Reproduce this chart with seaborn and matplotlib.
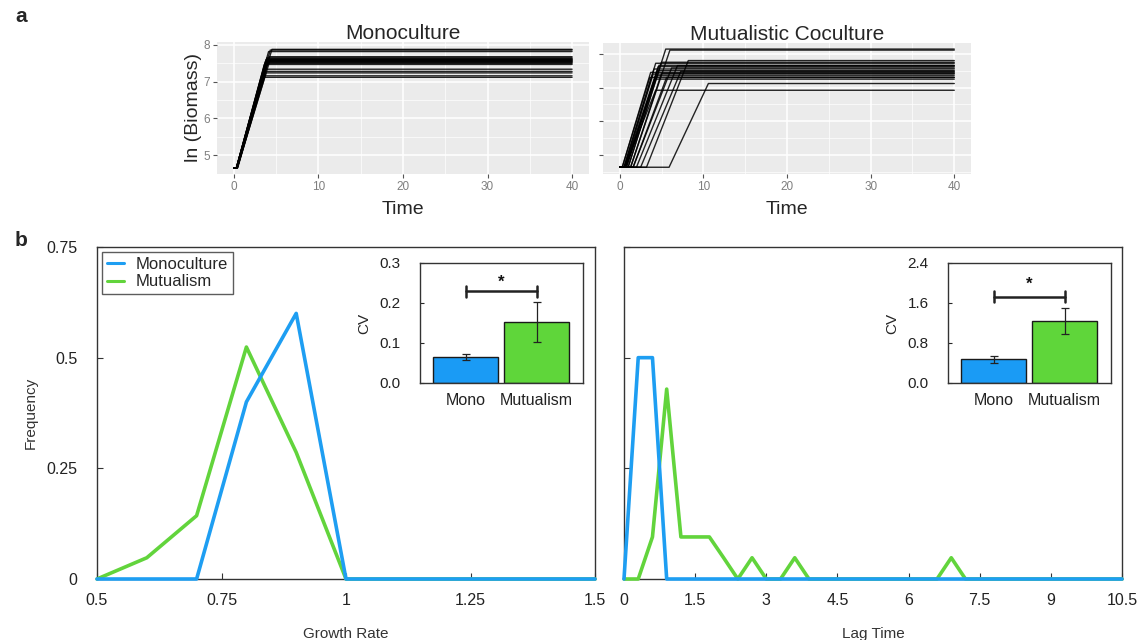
import numpy as np
import pandas as pd
import matplotlib
matplotlib.use("Agg")
import matplotlib.pyplot as plt
from matplotlib.ticker import MultipleLocator
import seaborn as sns

# ---------------- DATA ----------------
# Panel a: growth curves, each drawn through read-off vertices
# (start, end of lag, reaching plateau, end of run)
mono_start = 4.66
mono_lag_end = [0.3, 0.35, 0.3, 0.4, 0.3, 0.35, 0.4, 0.3, 0.45, 0.35,
                0.4, 0.3, 0.35, 0.4, 0.3, 0.35, 0.3, 0.4, 0.35, 0.3]
mono_plateau_t = [4.5, 4.3, 4.1, 4.2, 3.9, 4.0, 4.3, 3.8, 4.1, 3.9,
                  4.0, 3.7, 3.8, 3.9, 3.6, 3.7, 3.5, 3.8, 3.6, 3.4]
mono_plateau_y = [7.88, 7.86, 7.82, 7.68, 7.65, 7.63, 7.61, 7.60, 7.58, 7.57,
                  7.55, 7.54, 7.52, 7.50, 7.47, 7.34, 7.28, 7.24, 7.16, 7.12]

cocul_start = 4.64
cocul_lag_end = [0.3, 0.3, 0.5, 0.5, 0.6, 0.6, 0.6, 0.7, 0.7, 0.8, 0.8,
                 1.0, 1.0, 1.3, 1.3, 1.6, 1.6, 2.0, 2.5, 3.2, 5.9]
cocul_plateau_t = [3.7, 3.6, 4.3, 4.1, 4.0, 4.3, 4.6, 4.5, 4.4, 4.2, 4.7,
                   5.5, 5.0, 6.0, 5.0, 6.2, 5.6, 6.9, 7.3, 8.2, 10.6]
cocul_plateau_y = [7.45, 7.30, 7.72, 7.55, 7.40, 6.92, 7.62, 7.50, 7.35, 7.25, 7.66,
                   8.14, 7.75, 8.11, 7.42, 7.58, 7.30, 7.65, 7.48, 7.80, 7.12]
t_end = 40

# Panel b left: growth-rate frequency
growth_x = [0.5, 0.6, 0.7, 0.8, 0.9, 1.0, 1.1, 1.2, 1.3, 1.4, 1.5]
growth_mono = [0, 0, 0, 0.40, 0.60, 0, 0, 0, 0, 0, 0]
growth_mut = [0, 0.048, 0.143, 0.524, 0.286, 0, 0, 0, 0, 0, 0]
growth_ticks = [0.5, 0.75, 1.0, 1.25, 1.5]
growth_ticklabels = ["0.5", "0.75", "1", "1.25", "1.5"]

# Panel b right: lag-time frequency
lag_x = [0.0, 0.3, 0.6, 0.9, 1.2, 1.5, 1.8, 2.1, 2.4, 2.7, 3.0, 3.3,
         3.6, 3.9, 4.2, 4.5, 4.8, 5.1, 5.4, 5.7, 6.0, 6.3, 6.6, 6.9,
         7.2, 7.5, 7.8, 8.1, 8.4, 8.7, 9.0, 9.3, 9.6, 9.9, 10.2, 10.5]
lag_mono = [0, 0.5, 0.5, 0, 0, 0, 0, 0, 0, 0, 0, 0,
            0, 0, 0, 0, 0, 0, 0, 0, 0, 0, 0, 0,
            0, 0, 0, 0, 0, 0, 0, 0, 0, 0, 0, 0]
lag_mut = [0, 0, 0.095, 0.429, 0.095, 0.095, 0.095, 0.048, 0, 0.048, 0, 0,
           0.048, 0, 0, 0, 0, 0, 0, 0, 0, 0, 0, 0.048,
           0, 0, 0, 0, 0, 0, 0, 0, 0, 0, 0, 0]
lag_ticks = [0, 1.5, 3, 4.5, 6, 7.5, 9, 10.5]
lag_ticklabels = ["0", "1.5", "3", "4.5", "6", "7.5", "9", "10.5"]

freq_ticks = [0, 0.25, 0.5, 0.75]
freq_ticklabels = ["0", "0.25", "0.5", "0.75"]

# Insets: coefficient of variation
cv_groups = ["Mono", "Mutualism"]
cv_growth = [0.065, 0.153]
cv_growth_err = [0.007, 0.050]
cv_lag = [0.48, 1.24]
cv_lag_err = [0.07, 0.26]

BLUE = "#1E9EF2"
GREEN = "#62D43C"
BAR_BLUE = "#1A9BF5"
BAR_GREEN = "#5FD63A"

# ---------------- STYLE ----------------
sns.set_theme(style="white")
plt.rcParams["font.family"] = ["Liberation Sans", "DejaVu Sans"]

fig = plt.figure(figsize=(11.45, 6.4), dpi=100)
W, H = 1145, 640


def ax_px(x0, y0, x1, y1):
    return fig.add_axes([x0 / W, 1 - y1 / H, (x1 - x0) / W, (y1 - y0) / H])


def curves_df(lag_end, plat_t, plat_y, start):
    rows = []
    for i, (a, b, k) in enumerate(zip(lag_end, plat_t, plat_y)):
        for t, y in [(0, start), (a, start), (b, k), (t_end, k)]:
            rows.append({"curve": i, "Time": t, "y": y})
    return pd.DataFrame(rows)


def gg_style(ax, ylim, show_ylabels):
    ax.set_facecolor("#EBEBEB")
    for s in ax.spines.values():
        s.set_visible(False)
    ax.set_xlim(-2, 42)
    ax.set_ylim(*ylim)
    ax.set_xticks([0, 10, 20, 30, 40])
    ax.set_yticks([5, 6, 7, 8])
    ax.xaxis.set_minor_locator(MultipleLocator(5))
    ax.yaxis.set_minor_locator(MultipleLocator(0.5))
    ax.grid(True, which="major", color="white", lw=1.1)
    ax.grid(True, which="minor", color="white", lw=0.5)
    ax.set_axisbelow(True)
    ax.tick_params(axis="both", which="major", length=3, width=0.8,
                   color="#555555", labelcolor="#7F7F7F", labelsize=8.5,
                   bottom=True, left=True, pad=2)
    ax.tick_params(axis="both", which="minor", length=0)
    if not show_ylabels:
        ax.set_yticklabels([])
    ax.set_xlabel("Time", fontsize=14, labelpad=6)


# ---------------- PANEL a ----------------
axm = ax_px(217, 42, 589, 174)
dfm = curves_df(mono_lag_end, mono_plateau_t, mono_plateau_y, mono_start)
sns.lineplot(data=dfm, x="Time", y="y", units="curve", estimator=None,
             color="black", lw=1.0, alpha=0.85, ax=axm, sort=False)
gg_style(axm, (4.49, 8.08), True)
axm.set_ylabel("ln (Biomass)", fontsize=14, labelpad=1)
axm.set_title("Monoculture", fontsize=15, pad=2)

axc = ax_px(603, 43, 971, 174)
dfc = curves_df(cocul_lag_end, cocul_plateau_t, cocul_plateau_y, cocul_start)
sns.lineplot(data=dfc, x="Time", y="y", units="curve", estimator=None,
             color="black", lw=1.0, alpha=0.85, ax=axc, sort=False)
gg_style(axc, (4.44, 8.32), False)
axc.set_ylabel("")
axc.set_title("Mutualistic Coculture", fontsize=15, pad=2)

fig.text(15 / W, 1 - 16 / H, "a", fontsize=15, fontweight="bold",
         va="center", ha="left")
fig.text(15 / W, 1 - 241 / H, "b", fontsize=15, fontweight="bold",
         va="center", ha="left")


# ---------------- PANEL b ----------------
def box_style(ax):
    for s in ax.spines.values():
        s.set_visible(True)
        s.set_color("#333333")
        s.set_linewidth(1.0)
    ax.tick_params(direction="in", length=4, width=0.8, color="#333333",
                   labelsize=11.5, labelcolor="#222222", top=False,
                   right=False, bottom=True, left=True)
    ax.grid(False)


axg = ax_px(97, 247, 595, 579)
dfg = pd.DataFrame({"x": growth_x * 2,
                    "f": growth_mono + growth_mut,
                    "grp": ["Monoculture"] * len(growth_x) + ["Mutualism"] * len(growth_x)})
sns.lineplot(data=dfg, x="x", y="f", hue="grp",
             palette={"Monoculture": BLUE, "Mutualism": GREEN},
             hue_order=["Mutualism", "Monoculture"],
             lw=2.6, ax=axg, clip_on=False, zorder=5)
axg.set_xlim(0.5, 1.5)
axg.set_ylim(0, 0.75)
axg.set_xticks(growth_ticks)
axg.set_xticklabels(growth_ticklabels)
axg.set_yticks(freq_ticks)
axg.set_yticklabels(freq_ticklabels)
box_style(axg)
axg.tick_params(axis="x", pad=10)
axg.tick_params(axis="y", pad=14)
axg.set_xlabel("Growth Rate", fontsize=11, color="#333333", labelpad=14)
axg.set_ylabel("Frequency", fontsize=11, color="#333333", labelpad=6)
handles, labels = axg.get_legend_handles_labels()
order = [labels.index("Monoculture"), labels.index("Mutualism")]
leg = axg.legend([handles[i] for i in order], [labels[i] for i in order],
                 loc="upper left", bbox_to_anchor=(0.01, 0.985),
                 borderaxespad=0,
                 fontsize=12, frameon=True, fancybox=False,
                 edgecolor="#333333", handlelength=1.0, handletextpad=0.7,
                 borderpad=0.3, labelspacing=0.15)
leg.get_frame().set_linewidth(1.0)
for lh in leg.get_lines():
    lh.set_linewidth(2.2)

axl = ax_px(624, 247, 1122, 579)
dfl = pd.DataFrame({"x": lag_x * 2,
                    "f": lag_mono + lag_mut,
                    "grp": ["Monoculture"] * len(lag_x) + ["Mutualism"] * len(lag_x)})
sns.lineplot(data=dfl, x="x", y="f", hue="grp",
             palette={"Monoculture": BLUE, "Mutualism": GREEN},
             hue_order=["Mutualism", "Monoculture"],
             lw=2.6, ax=axl, clip_on=False, zorder=5, legend=False)
axl.set_xlim(0, 10.5)
axl.set_ylim(0, 0.75)
axl.set_xticks(lag_ticks)
axl.set_xticklabels(lag_ticklabels)
axl.set_yticks(freq_ticks)
axl.set_yticklabels([])
box_style(axl)
axl.tick_params(axis="x", pad=10)
axl.set_xlabel("Lag Time", fontsize=11, color="#333333", labelpad=14)
axl.set_ylabel("")


# ---------------- INSETS ----------------
def inset(x0, x1, vals, errs, ymax, step, br_y, br_h, star_y):
    ax = ax_px(x0, 263, x1, 383)
    df = pd.DataFrame({"g": cv_groups, "v": vals})
    sns.barplot(data=df, x="g", y="v", hue="g",
                palette={"Mono": BAR_BLUE, "Mutualism": BAR_GREEN},
                saturation=1, width=0.915, edgecolor="#1a1a1a", linewidth=1.0,
                ax=ax, legend=False, zorder=2)
    ax.errorbar([0, 1], vals, yerr=errs, fmt="none", ecolor="#222222",
                elinewidth=0.9, capsize=3, capthick=0.9, zorder=3)
    ax.plot([0, 1], [br_y, br_y], color="#222222", lw=1.8)
    ax.plot([0, 0], [br_y - br_h, br_y + br_h], color="#222222", lw=1.8)
    ax.plot([1, 1], [br_y - br_h, br_y + br_h], color="#222222", lw=1.8)
    ax.text(0.5, star_y, "*", ha="center", va="center", fontsize=12,
            fontweight="bold", color="#111111")
    ax.set_xlim(-0.64, 1.65)
    ax.set_ylim(0, ymax)
    ticks = [i * step for i in range(4)]
    ax.set_yticks(ticks)
    ax.set_yticklabels([f"{t:.1f}" for t in ticks])
    for s in ax.spines.values():
        s.set_visible(True)
        s.set_color("#333333")
        s.set_linewidth(1.0)
    ax.tick_params(axis="y", direction="in", length=3, width=0.8,
                   labelsize=11, pad=14, left=True, labelcolor="#222222")
    ax.tick_params(axis="x", length=0, labelsize=11.5, pad=7,
                   labelcolor="#222222")
    ax.set_xlabel("")
    ax.set_ylabel("CV", fontsize=11, labelpad=6)
    ax.grid(False)
    return ax


inset(420, 583, cv_growth, cv_growth_err, 0.3, 0.1, 0.229, 0.014, 0.252)
inset(948, 1111, cv_lag, cv_lag_err, 2.4, 0.8, 1.73, 0.115, 1.98)

fig.savefig("out.png", dpi=100)
